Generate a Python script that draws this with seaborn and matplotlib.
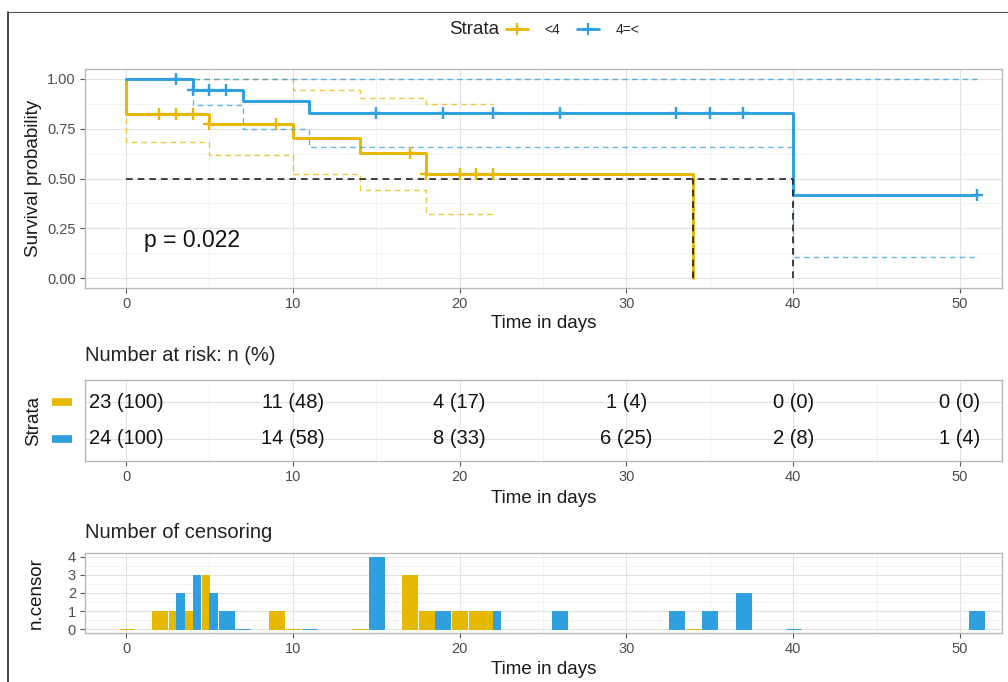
import numpy as np
import matplotlib
matplotlib.use("Agg")
import matplotlib.pyplot as plt
import matplotlib.transforms as mtransforms
from matplotlib.lines import Line2D
from matplotlib.ticker import MultipleLocator
import seaborn as sns

# strata and colours
strata = ["<4", "4=<"]
colors = ["#E7B800", "#2E9FDF"]

# Kaplan-Meier steps
km_time_lt4 = [0, 0, 5, 10, 14, 18, 34]
km_surv_lt4 = [1.0, 0.826, 0.775, 0.705, 0.63, 0.525, 0.0]
km_time_ge4 = [0, 4, 7, 11, 40, 51]
km_surv_ge4 = [1.0, 0.945, 0.89, 0.83, 0.415, 0.415]

# confidence bands
ci_time_lt4 = [0, 0, 5, 10, 14, 18, 22]
ci_low_lt4 = [1.0, 0.685, 0.62, 0.525, 0.44, 0.32, 0.32]
ci_up_lt4 = [1.0, 1.0, 1.0, 0.945, 0.905, 0.875, 0.875]
ci_time_ge4 = [0, 4, 7, 11, 40, 51]
ci_low_ge4 = [1.0, 0.87, 0.75, 0.66, 0.105, 0.105]
ci_up_ge4 = [1.0, 1.0, 1.0, 1.0, 1.0, 1.0]

# censoring marks
cens_time_lt4 = [2, 3, 4, 5, 9, 17, 18, 20, 21, 22]
cens_time_ge4 = [3, 4, 5, 6, 15, 19, 22, 26, 33, 35, 37, 51]

median_times = [34, 40]
pval_text = "p = 0.022"

# risk table
risk_times = [0, 10, 20, 30, 40, 50]
risk_lt4 = ["23 (100)", "11 (48)", "4 (17)", "1 (4)", "0 (0)", "0 (0)"]
risk_ge4 = ["24 (100)", "14 (58)", "8 (33)", "6 (25)", "2 (8)", "1 (4)"]

# number of censored per time point
ncens_time_lt4 = [0, 2, 3, 4, 5, 9, 10, 14, 17, 18, 20, 21, 22, 34]
ncens_lt4 = [0, 1, 1, 1, 3, 1, 0, 0, 3, 1, 1, 1, 1, 0]
ncens_time_ge4 = [3, 4, 5, 6, 7, 11, 15, 19, 22, 26, 33, 35, 37, 40, 51]
ncens_ge4 = [2, 3, 2, 1, 0, 0, 4, 1, 1, 1, 1, 1, 2, 0, 1]

sns.set_theme(style="whitegrid")
plt.rcParams["font.family"] = ["Liberation Sans", "DejaVu Sans"]

W, H = 1008, 682
fig = plt.figure(figsize=(W / 100, H / 100), dpi=100)


def box(l, t, r, b):
    return [l / W, 1 - b / H, (r - l) / W, (b - t) / H]


ax1 = fig.add_axes(box(85, 69, 1002, 288))
ax2 = fig.add_axes(box(85, 380, 1002, 461))
ax3 = fig.add_axes(box(85, 553, 1002, 633))


def style(ax):
    for s in ax.spines.values():
        s.set_color("#B8B8B8")
        s.set_linewidth(1)
    ax.set_axisbelow(True)
    ax.xaxis.set_major_locator(MultipleLocator(10))
    ax.xaxis.set_minor_locator(MultipleLocator(5))
    ax.grid(which="major", color="#E2E2E2", lw=0.8)
    ax.grid(which="minor", color="#EFEFEF", lw=0.5)
    ax.tick_params(which="major", length=3.5, width=0.8, color="#555555",
                   labelsize=10.5, labelcolor="#4D4D4D", bottom=True, left=True, pad=3)
    ax.tick_params(which="minor", length=0)
    ax.set_xlim(-2.46, 52.52)


for ax in (ax1, ax2, ax3):
    style(ax)

# ---- survival curves
curves = [
    (km_time_lt4, km_surv_lt4, ci_time_lt4, ci_low_lt4, ci_up_lt4, cens_time_lt4),
    (km_time_ge4, km_surv_ge4, ci_time_ge4, ci_low_ge4, ci_up_ge4, cens_time_ge4),
]
for (kt, ks, ct, cl, cu, cx), col in zip(curves, colors):
    for band in (cl, cu):
        sns.lineplot(x=ct, y=band, ax=ax1, color=col, lw=1, alpha=0.75, dashes=False,
                     linestyle=(0, (4, 3)), drawstyle="steps-post", estimator=None, sort=False)
    sns.lineplot(x=kt, y=ks, ax=ax1, color=col, lw=2.1, drawstyle="steps-post",
                 estimator=None, sort=False)
    idx = np.searchsorted(kt, cx, side="right") - 1
    sns.scatterplot(x=cx, y=np.asarray(ks)[idx], ax=ax1, marker="+", s=75,
                    color=col, linewidth=1.7, zorder=5)

ax1.hlines(0.5, 0, max(median_times), colors="#222222", lw=1.2, linestyles=(0, (4, 3)), zorder=4)
ax1.vlines(median_times, 0, 0.5, colors="#222222", lw=1.2, linestyles=(0, (4, 3)), zorder=4)
ax1.text(1.1, 0.19, pval_text, fontsize=16.5, va="center", ha="left", color="#111111")

ax1.set_ylim(-0.05, 1.05)
ax1.yaxis.set_major_locator(MultipleLocator(0.25))
ax1.yaxis.set_minor_locator(MultipleLocator(0.125))
ax1.yaxis.set_major_formatter(matplotlib.ticker.FormatStrFormatter("%.2f"))
ax1.set_xlabel("Time in days", fontsize=13.5, color="#1A1A1A")
ax1.set_ylabel("Survival probability", fontsize=13.5, color="#1A1A1A")
ax1.xaxis.set_label_coords(0.5, -0.125)
ax1.yaxis.set_label_coords(-0.047, 0.5)

# ---- risk table
row_y = [2, 1]
for y, labels in zip(row_y, [risk_lt4, risk_ge4]):
    for t, lab in zip(risk_times, labels):
        ax2.text(t, y, lab, ha="center", va="center", fontsize=14.5, color="#111111")
ax2.set_ylim(0.4, 2.6)
ax2.set_yticks(row_y)
ax2.set_yticklabels([])
ax2.tick_params(axis="y", left=False)
trans = mtransforms.blended_transform_factory(ax2.transAxes, ax2.transData)
for y, col in zip(row_y, colors):
    ax2.plot([-0.036, -0.014], [y, y], color=col, lw=5.5, transform=trans,
             clip_on=False, solid_capstyle="butt")
ax2.set_xlabel("Time in days", fontsize=13.5, color="#1A1A1A")
ax2.set_ylabel("Strata", fontsize=13.5, color="#1A1A1A")
ax2.xaxis.set_label_coords(0.5, -0.36)
ax2.yaxis.set_label_coords(-0.047, 0.5)
ax2.text(0, 1.3, "Number at risk: n (%)", transform=ax2.transAxes, ha="left",
         va="center", fontsize=14.5, color="#222222")

# ---- censoring bars (dodged where both strata share a time)
shared = set(ncens_time_lt4) & set(ncens_time_ge4)
for times, counts, col, side in [(ncens_time_lt4, ncens_lt4, colors[0], 0),
                                 (ncens_time_ge4, ncens_ge4, colors[1], 1)]:
    times = np.asarray(times, float)
    dodge = np.array([t in shared for t in times])
    left = np.where(dodge, times - 0.45 + 0.45 * side, times - 0.45)
    width = np.where(dodge, 0.45, 0.9)
    ax3.bar(left, counts, width=width, align="edge", color=col, edgecolor=col,
            linewidth=0.7, zorder=3)
ax3.set_ylim(-0.2, 4.2)
ax3.yaxis.set_major_locator(MultipleLocator(1))
ax3.yaxis.set_minor_locator(MultipleLocator(0.5))
ax3.set_xlabel("Time in days", fontsize=13.5, color="#1A1A1A")
ax3.set_ylabel("n.censor", fontsize=13.5, color="#1A1A1A")
ax3.xaxis.set_label_coords(0.5, -0.35)
ax3.yaxis.set_label_coords(-0.044, 0.5)
ax3.text(0, 1.25, "Number of censoring", transform=ax3.transAxes, ha="left",
         va="center", fontsize=14.5, color="#222222")

# ---- legend on top
handles = [Line2D([], [], color=c, lw=2, marker="+", markersize=9, mew=1.6) for c in colors]
fig.text(474 / W, 1 - 30 / H, "Strata", ha="center", va="center", fontsize=13.5, color="#222222")
fig.legend(handles, strata, loc="center left", bbox_to_anchor=(500 / W, 1 - 30 / H),
           ncol=2, frameon=False, fontsize=10, handlelength=1.6, handletextpad=1.2,
           columnspacing=1.2, borderaxespad=0)

# thin frame around the screenshot
fig.add_artist(Line2D([8 / W, 8 / W], [0, 1 - 12 / H], color="#222222", lw=1.2))
fig.add_artist(Line2D([8 / W, 1], [1 - 12 / H, 1 - 12 / H], color="#555555", lw=0.8))

fig.savefig("out.png", dpi=100)
